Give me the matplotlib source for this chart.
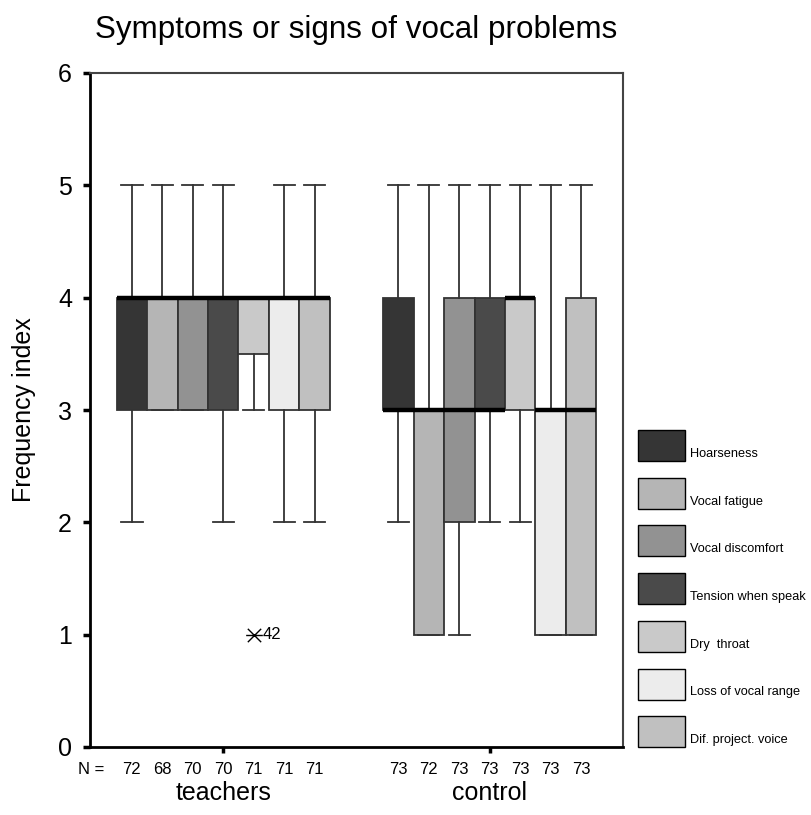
import matplotlib
matplotlib.use("Agg")
import matplotlib.pyplot as plt
from matplotlib.patches import Rectangle
from matplotlib.path import Path
from matplotlib.transforms import blended_transform_factory

plt.rcParams['font.family'] = ['Liberation Sans', 'DejaVu Sans']

groups = ['teachers', 'control']
symptoms = ['Hoarseness', 'Vocal fatigue', 'Vocal discomfort', 'Tension when speak',
            'Dry  throat', 'Loss of vocal range', 'Dif. project. voice']
colors = ['#353535', '#b5b5b5', '#929292', '#4a4a4a', '#c9c9c9', '#ececec', '#c0c0c0']

# per group: lists over symptoms
whislo = {'teachers': [2, 3, 3, 2, 3, 2, 2], 'control': [2, 1, 1, 2, 2, 1, 1]}
q1 = {'teachers': [3, 3, 3, 3, 3.5, 3, 3], 'control': [3, 1, 2, 3, 3, 1, 1]}
med = {'teachers': [4, 4, 4, 4, 4, 4, 4], 'control': [3, 3, 3, 3, 4, 3, 3]}
q3 = {'teachers': [4, 4, 4, 4, 4, 4, 4], 'control': [4, 3, 4, 4, 4, 3, 4]}
whishi = {'teachers': [5, 5, 5, 5, 4, 5, 5], 'control': [5, 5, 5, 5, 5, 5, 5]}
n_valid = {'teachers': [72, 68, 70, 70, 71, 71, 71], 'control': [73, 72, 73, 73, 73, 73, 73]}
outliers = {'teachers': [[], [], [], [], [1], [], []], 'control': [[], [], [], [], [], [], []]}
outlier_ids = {'teachers': [[], [], [], [], ['42'], [], []], 'control': [[], [], [], [], [], [], []]}

# SPSS style extreme marker: a cross with a horizontal bar through it
star = Path([(-1, 0), (1, 0), (-0.8, -0.8), (0.8, 0.8), (-0.8, 0.8), (0.8, -0.8)],
            [Path.MOVETO, Path.LINETO, Path.MOVETO, Path.LINETO, Path.MOVETO, Path.LINETO])

fig = plt.figure(figsize=(8.11, 8.15), dpi=100)
ax = fig.add_axes([90 / 811, 1 - 747 / 815, 533 / 811, 674 / 815])

w = 0.8 / len(symptoms)
edge = '#333333'
trans = blended_transform_factory(ax.transData, ax.transAxes)

for gi, g in enumerate(groups):
    center = gi + 1
    for i, s in enumerate(symptoms):
        pos = center + (i - (len(symptoms) - 1) / 2) * w
        stats = [dict(med=med[g][i], q1=q1[g][i], q3=q3[g][i],
                      whislo=whislo[g][i], whishi=whishi[g][i], fliers=outliers[g][i])]
        bp = ax.bxp(stats, positions=[pos], widths=w, capwidths=w * 0.7,
                    patch_artist=True, manage_ticks=False,
                    boxprops=dict(facecolor=colors[i], edgecolor=edge, linewidth=1.3),
                    whiskerprops=dict(color=edge, linewidth=1.3),
                    capprops=dict(color=edge, linewidth=1.3),
                    medianprops=dict(color='black', linewidth=3.2, solid_capstyle='butt'),
                    flierprops=dict(marker=star, markersize=12, markeredgecolor='black',
                                    markerfacecolor='none', markeredgewidth=1.0,
                                    linestyle='none'))
        for y, lab in zip(outliers[g][i], outlier_ids[g][i]):
            ax.text(pos + 0.032, y, lab, fontsize=12, va='center', ha='left')
        ax.text(pos, -0.022, str(n_valid[g][i]), transform=trans, fontsize=12,
                ha='center', va='top')

ax.text(0.555, -0.022, 'N =', transform=trans, fontsize=12, ha='right', va='top')

ax.set_xlim(0.5, 2.5)
ax.set_ylim(0, 6)
ax.set_yticks(range(7))
ax.set_xticks([1, 2])
ax.set_xticklabels(groups, fontsize=18)
ax.tick_params(axis='y', labelsize=18, length=5, width=2.5, pad=8, direction='out')
ax.tick_params(axis='x', length=4.5, width=2.5, pad=20, direction='out')
ax.set_ylabel('Frequency index', fontsize=18, labelpad=16)
ax.set_title('Symptoms or signs of vocal problems', fontsize=22.6, pad=25)

for side in ['left', 'bottom']:
    ax.spines[side].set_linewidth(2)
    ax.spines[side].set_color('black')
for side in ['top', 'right']:
    ax.spines[side].set_linewidth(1.5)
    ax.spines[side].set_color('#444444')

# legend drawn beside the plot, label sitting at the lower edge of each swatch
for i, s in enumerate(symptoms):
    top = 430 + i * 47.7
    fig.patches.append(Rectangle((638 / 811, 1 - (top + 31) / 815), 47 / 811, 31 / 815,
                                 transform=fig.transFigure, facecolor=colors[i],
                                 edgecolor='black', linewidth=1))
    fig.text(690 / 811, 1 - (top + 24) / 815, s, fontsize=9.2, va='center', ha='left')

fig.savefig('out.png', dpi=100)
